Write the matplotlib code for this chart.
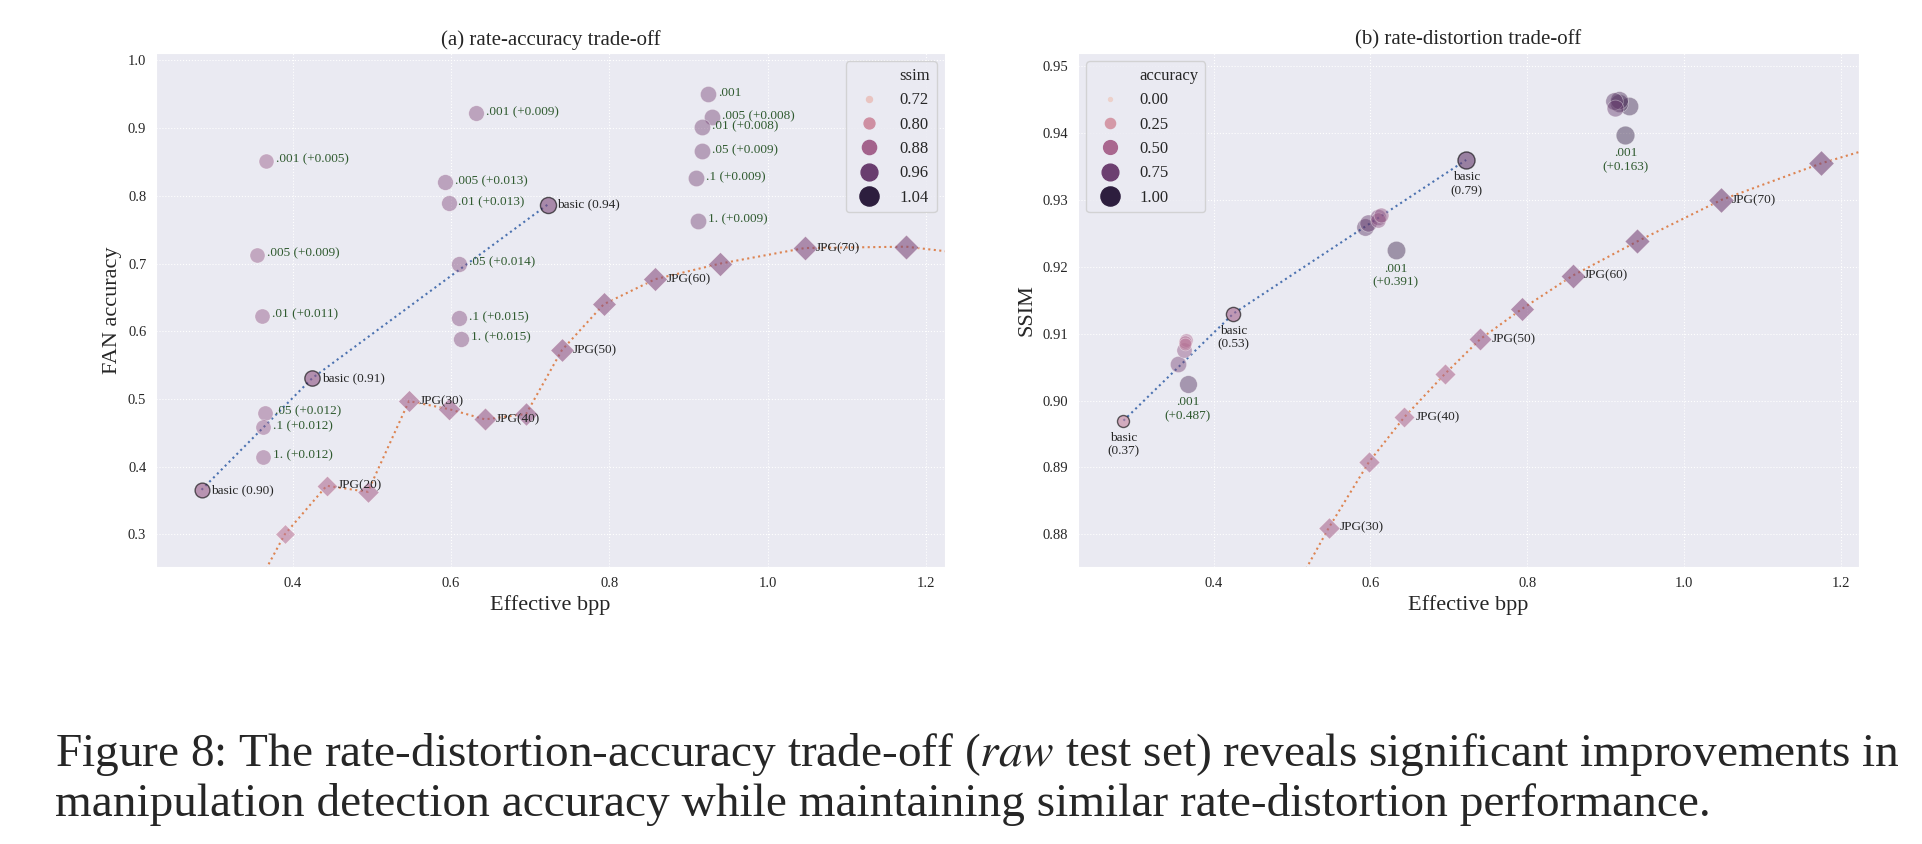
import matplotlib
matplotlib.use("Agg")
import matplotlib.pyplot as plt
from matplotlib.lines import Line2D
import seaborn as sns
import numpy as np

sns.set_style("darkgrid", {"grid.linestyle": ":"})
plt.rcParams['font.family'] = ['Liberation Serif', 'DejaVu Serif']
plt.rcParams['mathtext.fontset'] = 'stix'

# basic codec points
basic_bpp = [0.285, 0.425, 0.722]
basic_acc = [0.366, 0.531, 0.787]
basic_ssim = [0.897, 0.913, 0.936]

# fine-tuned variants: (lambda label, accuracy gain)
ft_labels = ['.001', '.005', '.01', '.05', '.1', '1.']
ft_bpp = [[0.367, 0.355, 0.362, 0.365, 0.363, 0.363],
          [0.632, 0.593, 0.597, 0.610, 0.610, 0.613],
          [0.925, 0.930, 0.917, 0.917, 0.910, 0.912]]
ft_acc = [[0.852, 0.713, 0.623, 0.480, 0.458, 0.415],
          [0.922, 0.820, 0.789, 0.700, 0.619, 0.589],
          [0.950, 0.916, 0.901, 0.866, 0.826, 0.763]]
ft_ssim = [[0.9025, 0.9055, 0.9075, 0.9090, 0.9088, 0.9085],
           [0.9225, 0.9260, 0.9265, 0.9275, 0.9270, 0.9278],
           [0.9398, 0.9440, 0.9445, 0.9450, 0.9448, 0.9438]]
ft_gain = [['+0.005', '+0.009', '+0.011', '+0.012', '+0.012', '+0.012'],
           ['+0.009', '+0.013', '+0.013', '+0.014', '+0.015', '+0.015'],
           ['', '+0.008', '+0.008', '+0.009', '+0.009', '+0.009']]
ssim_gain = ['+0.487', '+0.391', '+0.163']

# JPEG reference
jpg_q = [10, 15, 20, 25, 30, 35, 40, 45, 50, 55, 60, 65, 70, 75, 80]
jpg_bpp = [0.33, 0.39, 0.443, 0.495, 0.547, 0.598, 0.643, 0.695, 0.740, 0.793, 0.858, 0.940, 1.047, 1.175, 1.36]
jpg_acc = [0.17, 0.300, 0.372, 0.363, 0.497, 0.485, 0.470, 0.478, 0.572, 0.640, 0.677, 0.700, 0.723, 0.725, 0.700]
jpg_ssim = [0.80, 0.84, 0.858, 0.870, 0.881, 0.8908, 0.8975, 0.904, 0.9092, 0.9137, 0.9187, 0.9238, 0.930, 0.9355, 0.942]
jpg_lab_left = [20, 30, 40, 50, 60, 70]
jpg_lab_right = [30, 40, 50, 60, 70]

cmap = sns.cubehelix_palette(as_cmap=True)
green = '#2f5a2f'
blue = '#4c72b0'
orange = '#dd8452'

fig = plt.figure(figsize=(19.22, 8.44), dpi=100)
ax1 = fig.add_axes([156 / 1922, 1 - 567 / 844, 789 / 1922, 514 / 844])
ax2 = fig.add_axes([1078 / 1922, 1 - 567 / 844, 781 / 1922, 514 / 844])


def col(v, lo, hi):
    return cmap(np.clip((v - lo) / (hi - lo), 0, 1))


def size(v, lo, hi, smin=8, smax=190):
    return smin + np.clip((v - lo) / (hi - lo), 0, 1) * (smax - smin)


# ---------- (a) rate-accuracy ----------
lo, hi = 0.70, 1.04
ax1.plot(basic_bpp, basic_acc, ':', color=blue, lw=1.5, zorder=1)
ax1.plot(jpg_bpp, jpg_acc, ':', color=orange, lw=1.5, zorder=1)
for x, y, s in zip(jpg_bpp, jpg_acc, jpg_ssim):
    ax1.scatter(x, y, marker='D', s=size(s, lo, hi) * 1.2, color=col(s, lo, hi),
                alpha=0.6, edgecolor='white', lw=0.5, zorder=2)
for x, y, s in zip(basic_bpp, basic_acc, basic_ssim):
    ax1.scatter(x, y, s=size(s, lo, hi), color=col(s, lo, hi), alpha=0.6,
                edgecolor='black', lw=1, zorder=3)
    ax1.annotate('basic (%.2f)' % s, (x, y), xytext=(7, 0), textcoords='offset points',
                 va='center', fontsize=9.5)
for g in range(3):
    for lab, x, y, s, d in zip(ft_labels, ft_bpp[g], ft_acc[g], ft_ssim[g], ft_gain[g]):
        ax1.scatter(x, y, s=size(s, lo, hi), color=col(s, lo, hi), alpha=0.45,
                    edgecolor='white', lw=0.5, zorder=3)
        txt = lab if d == '' else '%s (%s)' % (lab, d)
        ax1.annotate(txt, (x, y), xytext=(7, 1), textcoords='offset points',
                     va='center', fontsize=9.5, color=green)
for q, x, y in zip(jpg_q, jpg_bpp, jpg_acc):
    if q in jpg_lab_left:
        ax1.annotate('JPG(%d)' % q, (x, y), xytext=(8, 0), textcoords='offset points',
                     va='center', fontsize=9.5)
ax1.set_xlim(0.2275, 1.224)
ax1.set_ylim(0.252, 1.011)
ax1.set_xticks([0.4, 0.6, 0.8, 1.0, 1.2])
ax1.set_xlabel('Effective bpp', fontsize=16)
ax1.set_ylabel('FAN accuracy', fontsize=16)
ax1.set_title('(a) rate-accuracy trade-off', fontsize=15)
ax1.tick_params(labelsize=10.5)

leg_vals = [0.72, 0.80, 0.88, 0.96, 1.04]
h = [Line2D([], [], ls='')] + [Line2D([], [], marker='o', ls='', color=col(v, lo, hi),
     markersize=np.sqrt(size(v, lo, hi))) for v in leg_vals]
ax1.legend(h, ['ssim'] + ['%.2f' % v for v in leg_vals], loc='upper right',
           fontsize=12, frameon=True)

# ---------- (b) rate-distortion ----------
lo2, hi2 = 0.0, 1.0
ax2.plot(basic_bpp, basic_ssim, ':', color=blue, lw=1.5, zorder=1)
ax2.plot(jpg_bpp, jpg_ssim, ':', color=orange, lw=1.5, zorder=1)
for x, y, a in zip(jpg_bpp, jpg_ssim, jpg_acc):
    ax2.scatter(x, y, marker='D', s=size(a, lo2, hi2) * 1.2, color=col(a, lo2, hi2),
                alpha=0.6, edgecolor='white', lw=0.5, zorder=2)
for x, y, a in zip(basic_bpp, basic_ssim, basic_acc):
    ax2.scatter(x, y, s=size(a, lo2, hi2), color=col(a, lo2, hi2), alpha=0.6,
                edgecolor='black', lw=1, zorder=3)
    ax2.annotate('basic\n(%.2f)' % a, (x, y), xytext=(0, -8), textcoords='offset points',
                 ha='center', va='top', fontsize=9.5, linespacing=1.2)
for g in range(3):
    for lab, x, y, a in zip(ft_labels, ft_bpp[g], ft_ssim[g], ft_acc[g]):
        ax2.scatter(x, y, s=size(a, lo2, hi2), color=col(a, lo2, hi2), alpha=0.45,
                    edgecolor='white', lw=0.5, zorder=3)
    ax2.annotate('.001\n(%s)' % ssim_gain[g], (ft_bpp[g][0], ft_ssim[g][0]),
                 xytext=(0, -9), textcoords='offset points', ha='center', va='top',
                 fontsize=9.5, color=green, linespacing=1.2)
for q, x, y in zip(jpg_q, jpg_bpp, jpg_ssim):
    if q in jpg_lab_right:
        ax2.annotate('JPG(%d)' % q, (x, y), xytext=(8, 0), textcoords='offset points',
                     va='center', fontsize=9.5)
ax2.set_xlim(0.227, 1.223)
ax2.set_ylim(0.8751, 0.952)
ax2.set_xticks([0.4, 0.6, 0.8, 1.0, 1.2])
ax2.set_xlabel('Effective bpp', fontsize=16)
ax2.set_ylabel('SSIM', fontsize=16)
ax2.set_title('(b) rate-distortion trade-off', fontsize=15)
ax2.tick_params(labelsize=10.5)

leg_vals2 = [0.0, 0.25, 0.5, 0.75, 1.0]
h2 = [Line2D([], [], ls='')] + [Line2D([], [], marker='o', ls='', color=col(v, lo2, hi2),
      markersize=np.sqrt(size(v, lo2, hi2))) for v in leg_vals2]
ax2.legend(h2, ['accuracy'] + ['%.2f' % v for v in leg_vals2], loc='upper left',
           fontsize=12, frameon=True)

fig.text(55 / 1922, 1 - 755 / 844,
         'Figure 8: The rate-distortion-accuracy trade-off ($\\it{raw}$ test set) reveals significant improvements in',
         fontsize=34, va='center', ha='left')
fig.text(55 / 1922, 1 - 805 / 844,
         'manipulation detection accuracy while maintaining similar rate-distortion performance.',
         fontsize=34, va='center', ha='left')

fig.savefig('out.png', dpi=100)
